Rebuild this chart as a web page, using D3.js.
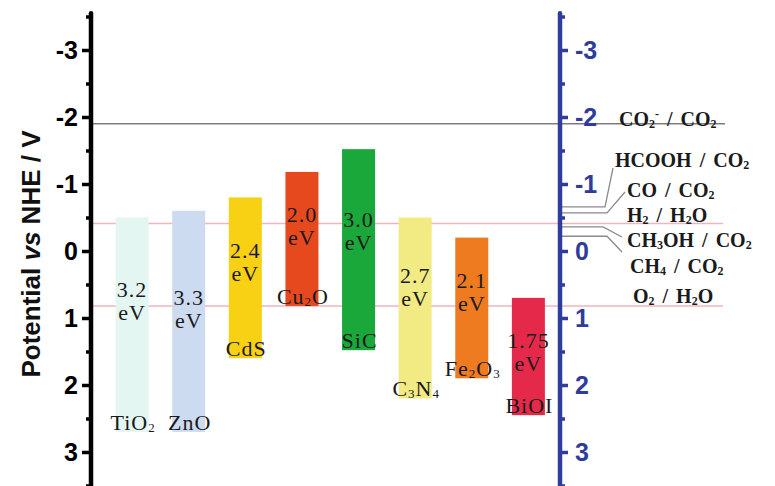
<!DOCTYPE html>
<html>
<head>
<meta charset="utf-8">
<script src="https://cdn.jsdelivr.net/npm/d3@7"></script>
<style>
  html, body { margin: 0; padding: 0; background: #fff; }
  svg { display: block; }
</style>
</head>
<body>
<svg id="chart" width="775" height="486"></svg>
<script>
// ---- Semiconductors: band edges in V vs NHE ----
const materials      = ["TiO_2", "ZnO", "CdS", "Cu_2O", "SiC", "C_3N_4", "Fe_2O_3", "BiOI"];
const conductionBand = [-0.50, -0.60, -0.80, -1.18, -1.52, -0.50, -0.20, 0.70];
const valenceBand    = [ 2.70,  2.70,  1.60,  0.82,  1.48,  2.20,  1.90, 2.45];
const bandGaps       = ["3.2", "3.3", "2.4", "2.0", "3.0", "2.7", "2.1", "1.75"];
const barColors      = ["#e4f6f1", "#cddbf0", "#f8d115", "#e6491e", "#1ba83b", "#f2eb84", "#ee7b1f", "#e4294a"];
// potential at which the band-gap caption starts inside each bar
const gapCaptionAt   = [0.69, 0.81, 0.10, -0.43, -0.36, 0.48, 0.55, 1.45];

// ---- Redox couples (V vs NHE) ----
const couples          = ["CO_2^- / CO_2", "HCOOH / CO_2", "CO / CO_2", "H_2 / H_2O", "CH_3OH / CO_2", "CH_4 / CO_2", "O_2 / H_2O"];
const couplePotentials = [-1.90, -0.66, -0.57, -0.41, -0.36, -0.22, 0.82];
const coupleStyle      = ["full-gray", "leader", "leader", "full-pink", "leader", "leader", "full-pink"];
// caption placement for each couple on the right side
const coupleLabelX     = [619, 615, 627, 627, 627, 630, 633];
const coupleLabelY     = [126, 167, 197, 222, 247, 273, 303];
// leader lines: elbow x and end point next to the caption
const leaderElbowX     = [null, 605, 607, null, 603, 607, null];
const leaderEnd        = [null, [613, 168], [625, 192], null, [622, 237], [622, 252], null];

// ---- Axis ticks ----
const majorTicks = [-3, -2, -1, 0, 1, 2, 3];
const minorTicks = [-3.5, -2.5, -1.5, -0.5, 0.5, 1.5, 2.5, 3.5];

const svg = d3.select("#chart");
const leftX = 91, rightX = 560;
const axisBlue = "#2f3c9c";

const y = d3.scaleLinear().domain([-3, 3]).range([50, 452]);
const x = d3.scaleBand().domain(materials).range([92, 568.5])
  .paddingInner(0.417).paddingOuter(0.417);

// text with "_d" subscripts and "^c" superscripts
function richText(sel, str, subSize) {
  const re = /([_^])(\S)|([^_^]+)/g;
  let m, shift = 0;
  while ((m = re.exec(str)) !== null) {
    if (m[3] !== undefined) {
      sel.append("tspan").attr("dy", -shift).text(m[3]);
      shift = 0;
    } else if (m[1] === "_") {
      const s = 2;
      sel.append("tspan").attr("dy", s - shift).attr("font-size", subSize).text(m[2]);
      shift = s;
    } else {
      const s = -8;
      sel.append("tspan").attr("dy", s - shift).attr("font-size", subSize).text(m[2]);
      shift = s;
    }
  }
  return sel;
}

// ---- Reference potential lines (behind the bars) ----
const lines = svg.append("g");
couples.forEach((c, i) => {
  const yy = y(couplePotentials[i]);
  if (coupleStyle[i] === "full-gray") {
    lines.append("line").attr("x1", leftX).attr("x2", 725).attr("y1", yy).attr("y2", yy)
      .attr("stroke", "#7d7d7d").attr("stroke-width", 1.4);
  } else if (coupleStyle[i] === "full-pink") {
    lines.append("line").attr("x1", leftX).attr("x2", 723).attr("y1", yy).attr("y2", yy)
      .attr("stroke", "#f1b3bc").attr("stroke-width", 1.5);
  } else {
    lines.append("polyline")
      .attr("points", [[rightX, yy], [leaderElbowX[i], yy], leaderEnd[i]].map(p => p.join(",")).join(" "))
      .attr("fill", "none").attr("stroke", "#8a8a8a").attr("stroke-width", 1.3);
  }
});

// ---- Band bars ----
const bars = svg.append("g");
materials.forEach((m, i) => {
  const top = y(conductionBand[i]), bottom = y(valenceBand[i]);
  bars.append("rect")
    .attr("x", x(m)).attr("width", x.bandwidth())
    .attr("y", top).attr("height", bottom - top)
    .attr("fill", barColors[i]);

  const cx = x(m) + x.bandwidth() / 2;
  const cap = bars.append("text")
    .attr("x", cx).attr("y", y(gapCaptionAt[i]))
    .attr("text-anchor", "middle")
    .attr("font-family", "'Liberation Serif', 'Times New Roman', serif")
    .attr("font-size", 22).attr("letter-spacing", 1)
    .attr("fill", "#1a1a1a");
  cap.append("tspan").attr("x", cx).text(bandGaps[i]);
  cap.append("tspan").attr("x", cx).attr("dy", 23).text("eV");

  const name = bars.append("text")
    .attr("x", cx + 1).attr("y", bottom - 2)
    .attr("text-anchor", "middle")
    .attr("font-family", "'Liberation Serif', 'Times New Roman', serif")
    .attr("font-size", 22).attr("letter-spacing", 1)
    .attr("fill", "#1a1a1a");
  richText(name, m, 13);
});

// ---- Redox couple captions ----
const caps = svg.append("g")
  .attr("font-family", "'Liberation Serif', 'Times New Roman', serif")
  .attr("font-weight", "bold").attr("font-size", 20).attr("fill", "#1a1a1a")
  .attr("word-spacing", 3);
couples.forEach((c, i) => {
  const t = caps.append("text").attr("x", coupleLabelX[i]).attr("y", coupleLabelY[i]);
  richText(t, c, 12);
});

// ---- Axes ----
const tickFmt = d => String(d);
function styleAxis(g, color, labelSize) {
  g.select(".domain").remove();
  g.selectAll(".tick line").attr("stroke", color);
  g.selectAll(".tick text")
    .attr("fill", color)
    .attr("font-family", "'Liberation Sans', Arial, sans-serif")
    .attr("font-weight", "bold")
    .attr("font-size", labelSize);
}

// left axis (black)
svg.append("line").attr("x1", leftX).attr("x2", leftX)
  .attr("y1", y(-3.55)).attr("y2", 490)
  .attr("stroke", "#000").attr("stroke-width", 4.5).attr("stroke-linecap", "round");
const gLeftMinor = svg.append("g").attr("transform", `translate(${leftX},0)`)
  .call(d3.axisLeft(y).tickValues(minorTicks).tickSize(5).tickFormat(""));
gLeftMinor.selectAll(".tick line").attr("stroke-width", 3.5);
styleAxis(gLeftMinor, "#000", 25);
const gLeft = svg.append("g").attr("transform", `translate(${leftX},0)`)
  .call(d3.axisLeft(y).tickValues(majorTicks).tickFormat(tickFmt).tickSize(9).tickPadding(4));
gLeft.selectAll(".tick line").attr("stroke-width", 3.5);
styleAxis(gLeft, "#000", 25);

// right axis (blue)
svg.append("line").attr("x1", rightX).attr("x2", rightX)
  .attr("y1", y(-3.55)).attr("y2", 490)
  .attr("stroke", axisBlue).attr("stroke-width", 4.5).attr("stroke-linecap", "round");
const gRightMinor = svg.append("g").attr("transform", `translate(${rightX},0)`)
  .call(d3.axisRight(y).tickValues(minorTicks).tickSize(5).tickFormat(""));
gRightMinor.selectAll(".tick line").attr("stroke-width", 3.5);
styleAxis(gRightMinor, axisBlue, 25);
const gRight = svg.append("g").attr("transform", `translate(${rightX},0)`)
  .call(d3.axisRight(y).tickValues(majorTicks).tickFormat(tickFmt).tickSize(8).tickPadding(7));
gRight.selectAll(".tick line").attr("stroke-width", 3.5);
styleAxis(gRight, axisBlue, 25);

// y-axis title
const title = svg.append("text")
  .attr("transform", "translate(40,254) rotate(-90)")
  .attr("text-anchor", "middle")
  .attr("font-family", "'Liberation Sans', Arial, sans-serif")
  .attr("font-weight", "bold").attr("font-size", 26).attr("fill", "#111");
title.append("tspan").text("Potential ");
title.append("tspan").attr("font-style", "italic").text("vs");
title.append("tspan").text(" NHE / V");
</script>
</body>
</html>
